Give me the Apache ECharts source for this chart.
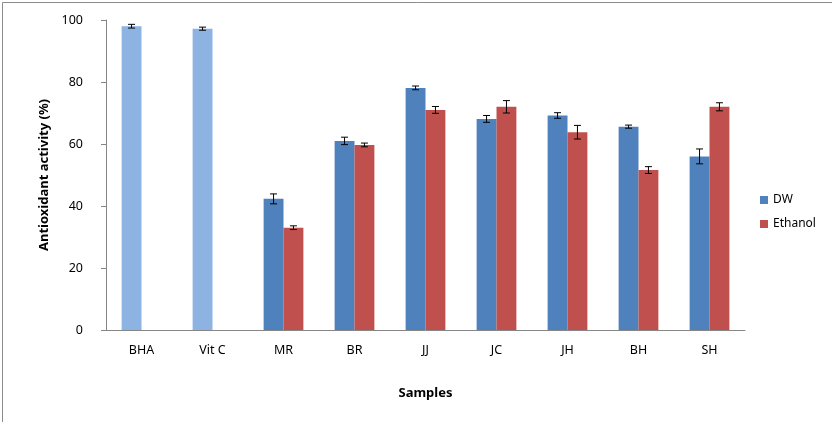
<!DOCTYPE html>
<html>
<head>
<meta charset="utf-8">
<script src="https://cdn.jsdelivr.net/npm/echarts@6/dist/echarts.min.js"></script>
<style>
html,body{margin:0;padding:0;background:#fff;}
#chart{width:832px;height:422px;}
</style>
</head>
<body>
<div id="chart"></div>
<script>
var categories = ['BHA', 'Vit C', 'MR', 'BR', 'JJ', 'JC', 'JH', 'BH', 'SH'];
var dwValues = [98.0, 97.2, 42.3, 61.0, 78.1, 68.1, 69.2, 65.6, 56.0];
var dwErrors = [0.6, 0.5, 1.6, 1.2, 0.6, 1.1, 0.9, 0.5, 2.4];
var ethanolValues = [null, null, 33.0, 59.7, 71.0, 72.0, 63.8, 51.6, 72.0];
var ethanolErrors = [null, null, 0.6, 0.6, 1.1, 2.0, 2.2, 1.1, 1.3];
var standardIdx = [0, 1];
var yTicks = [0, 20, 40, 60, 80, 100];

var DW_COLOR = '#4F81BD', ETH_COLOR = '#C0504D', STD_COLOR = '#8DB3E2';
var CAT_GAP = 0.44;

var dwData = dwValues.map(function (v, i) {
  if (standardIdx.indexOf(i) >= 0) return { value: v, itemStyle: { color: STD_COLOR } };
  return v;
});

function errRender(valArr, errArr, side) {
  return function (params, api) {
    var i = api.value(0);
    var v = valArr[i], e = errArr[i];
    if (v == null || e == null) return null;
    var band = api.size([1, 0])[0];
    var barW = band * (1 - CAT_GAP) / 2;
    var c = api.coord([i, v]);
    var x = c[0] + side * barW / 2;
    var yHi = api.coord([i, v + e])[1];
    var yLo = api.coord([i, v - e])[1];
    var cap = 3.5;
    var st = { stroke: '#000', lineWidth: 1 };
    return {
      type: 'group',
      children: [
        { type: 'line', shape: { x1: x, y1: yHi, x2: x, y2: yLo }, style: st },
        { type: 'line', shape: { x1: x - cap, y1: yHi, x2: x + cap, y2: yHi }, style: st },
        { type: 'line', shape: { x1: x - cap, y1: yLo, x2: x + cap, y2: yLo }, style: st }
      ]
    };
  };
}

var chart = echarts.init(document.getElementById('chart'));
chart.setOption({
  animation: false,
  textStyle: { fontFamily: 'Noto Sans' },
  graphic: [{
    type: 'rect', left: 0, top: 0, z: -10,
    shape: { x: 0.5, y: 0.5, width: 831, height: 421 },
    style: { fill: 'none', stroke: '#8c8c8c', lineWidth: 1 }
  }],
  grid: { left: 106, right: 87, top: 20, bottom: 92, containLabel: false },
  legend: {
    orient: 'vertical', left: 755, top: 189, itemWidth: 8, itemHeight: 8, itemGap: 12,
    icon: 'rect',
    textStyle: { fontSize: 12, color: '#000', fontFamily: 'Noto Sans' },
    data: [{ name: 'DW', itemStyle: { color: DW_COLOR } }, { name: 'Ethanol', itemStyle: { color: ETH_COLOR } }]
  },
  xAxis: {
    type: 'category', data: categories,
    name: 'Samples', nameLocation: 'middle', nameGap: 57,
    nameTextStyle: { fontSize: 13, fontWeight: 'bold', color: '#000' },
    axisLine: { lineStyle: { color: '#868686' } },
    axisTick: { show: false },
    axisLabel: { fontSize: 12.5, color: '#000', margin: 14 }
  },
  yAxis: {
    type: 'value', min: yTicks[0], max: yTicks[yTicks.length - 1], interval: 20,
    name: 'Antioxidant activity (%)', nameLocation: 'middle', nameGap: 54,
    nameTextStyle: { fontSize: 13, fontWeight: 'bold', color: '#000' },
    axisLine: { show: true, lineStyle: { color: '#868686' } },
    axisTick: { show: true, length: 5, lineStyle: { color: '#868686' } },
    splitLine: { show: false },
    axisLabel: { fontSize: 12.5, color: '#000', margin: 23 }
  },
  series: [
    { name: 'DW', type: 'bar', data: dwData, itemStyle: { color: DW_COLOR }, barGap: '0%', barCategoryGap: (CAT_GAP * 100) + '%' },
    { name: 'Ethanol', type: 'bar', data: ethanolValues, itemStyle: { color: ETH_COLOR }, barGap: '0%', barCategoryGap: (CAT_GAP * 100) + '%' },
    { type: 'custom', name: 'errDW', renderItem: errRender(dwValues, dwErrors, -1), data: categories.map(function (c, i) { return [i, dwValues[i]]; }), z: 10, silent: true },
    { type: 'custom', name: 'errEth', renderItem: errRender(ethanolValues, ethanolErrors, 1), data: categories.map(function (c, i) { return [i, ethanolValues[i] == null ? 0 : ethanolValues[i]]; }), z: 10, silent: true }
  ]
});
</script>
</body>
</html>
